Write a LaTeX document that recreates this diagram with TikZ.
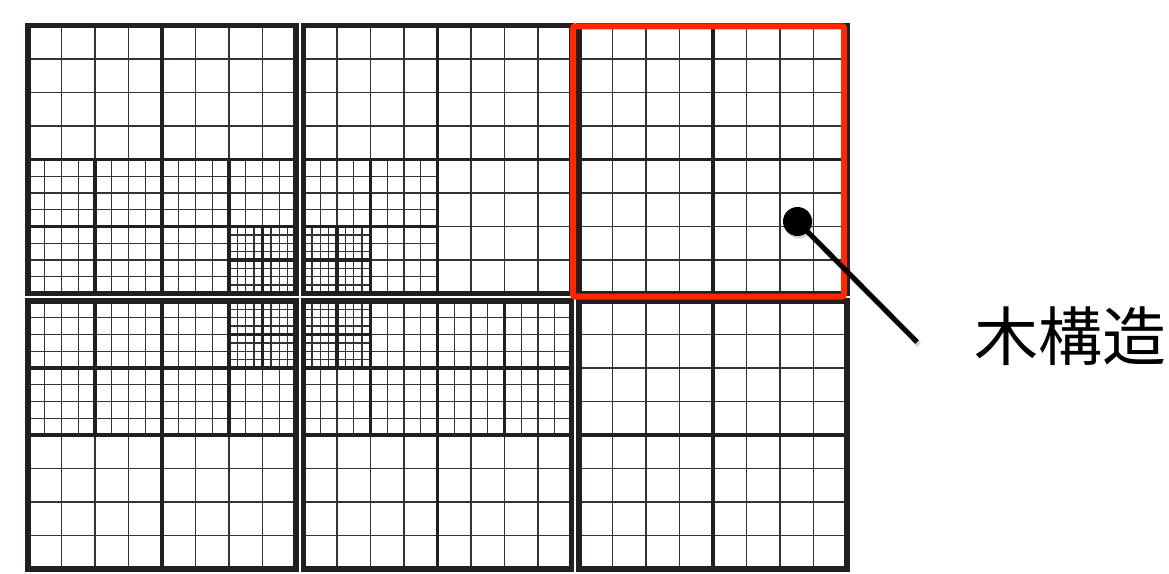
\documentclass[tikz,border=0pt]{standalone}
\usepackage{fontspec}
\newfontfamily\cjk{Noto Sans CJK JP}
\definecolor{ink}{HTML}{231F20}
\definecolor{fineink}{HTML}{333333}
\definecolor{hl}{HTML}{FF2800}
\tikzset{
  fine/.style={draw=fineink, line width=1.4pt},
  div/.style={draw=ink, line width=3.6pt},
  border/.style={draw=ink, line width=5.5pt},
  redframe/.style={draw=hl, line width=6pt, rounded corners=2pt},
  pin/.style={circle, fill=black, minimum size=29pt, inner sep=0pt},
  label/.style={font=\cjk\fontsize{64}{70}\selectfont, inner sep=0pt},
}
% leaf: 4x4 fine grid in square (#1,#2) of side #3
\newcommand\qleaf[3]{%
  \foreach \i in {1,2,3}{%
    \draw[fine] ({#1+\i*#3/4},{#2}) -- ++(0,#3);
    \draw[fine] ({#1},{#2+\i*#3/4}) -- ++(#3,0);
  }}
% thick cross dividing square (#1,#2) of side #3
\newcommand\qcross[3]{%
  \draw[div] ({#1+#3/2},{#2}) -- ++(0,#3);
  \draw[div] ({#1},{#2+#3/2}) -- ++(#3,0);}
% four leaves inside square
\newcommand\qfour[3]{%
  \qleaf{#1}{#2}{#3/2}\qleaf{#1+#3/2}{#2}{#3/2}%
  \qleaf{#1}{#2+#3/2}{#3/2}\qleaf{#1+#3/2}{#2+#3/2}{#3/2}%
  \qcross{#1}{#2}{#3}}
\begin{document}
\begin{tikzpicture}[x=1pt,y=-1pt]
\useasboundingbox[fill=white] (0,0) rectangle (1169,573);

% ---- block top-left
\begin{scope}[shift={(28,25.5)}]
  \qleaf{0}{0}{134}\qleaf{134}{0}{134}
  \qfour{0}{134}{134}
  \qleaf{134}{134}{67}\qleaf{201}{134}{67}\qleaf{134}{201}{67}
  \qfour{201}{201}{67}
  \qcross{134}{134}{134}
  \qcross{0}{0}{268}
  \draw[border] (0,0) rectangle (268,268);
\end{scope}

% ---- block top-centre
\begin{scope}[shift={(303.5,25.5)}]
  \qleaf{0}{0}{134}\qleaf{134}{0}{134}\qleaf{134}{134}{134}
  \qleaf{67}{134}{67}\qleaf{0}{134}{67}\qleaf{67}{201}{67}
  \qfour{0}{201}{67}
  \qcross{0}{134}{134}
  \qcross{0}{0}{268}
  \draw[border] (0,0) rectangle (268,268);
\end{scope}

% ---- block top-right
\begin{scope}[shift={(579,25.5)}]
  \qfour{0}{0}{268}
  \draw[border] (0,0) rectangle (268,268);
\end{scope}

% ---- block bottom-left
\begin{scope}[shift={(28,301)}]
  \qleaf{0}{134}{134}\qleaf{134}{134}{134}
  \qfour{0}{0}{134}
  \qleaf{134}{0}{67}\qleaf{134}{67}{67}\qleaf{201}{67}{67}
  \qfour{201}{0}{67}
  \qcross{134}{0}{134}
  \qcross{0}{0}{268}
  \draw[border] (0,0) rectangle (268,268);
\end{scope}

% ---- block bottom-centre
\begin{scope}[shift={(303.5,301)}]
  \qleaf{0}{134}{134}\qleaf{134}{134}{134}
  \qfour{134}{0}{134}
  \qleaf{67}{0}{67}\qleaf{0}{67}{67}\qleaf{67}{67}{67}
  \qfour{0}{0}{67}
  \qcross{0}{0}{134}
  \qcross{0}{0}{268}
  \draw[border] (0,0) rectangle (268,268);
\end{scope}

% ---- block bottom-right
\begin{scope}[shift={(579,301)}]
  \qfour{0}{0}{268}
  \draw[border] (0,0) rectangle (268,268);
\end{scope}

% ---- highlight
\draw[redframe] (573,26.3) rectangle (844,296.5);

% ---- pin and label
\coordinate (tip) at (917,342);
\node[pin, fill=black, opacity=0.18] at (799,224) {};
\draw[line width=5pt, black, opacity=0.18] (799,224) -- (919,345);
\node[pin] (dot) at (797.5,221.5) {};
\draw[line width=5pt, black] (dot.center) -- (tip);
\node[label] (lbl) at (1070,336) {木構造};
\end{tikzpicture}
\end{document}
